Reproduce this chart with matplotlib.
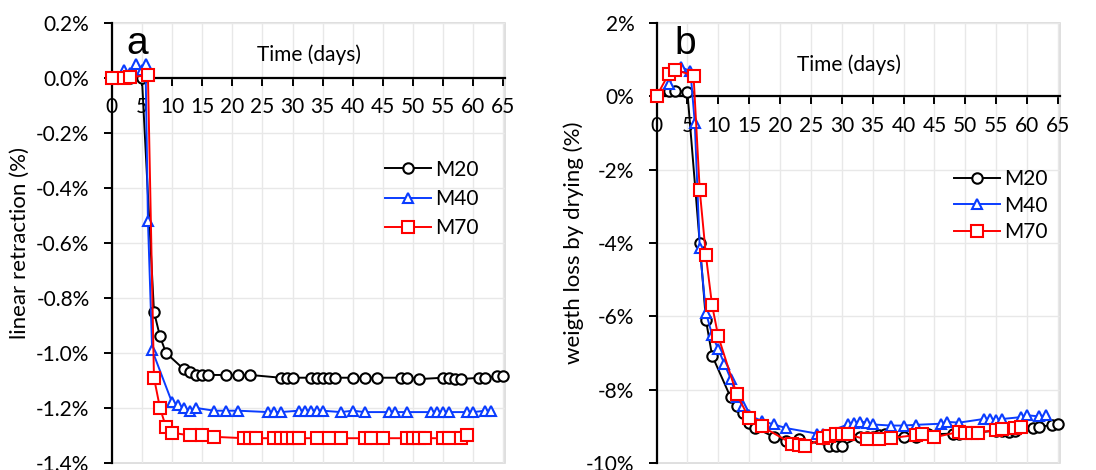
import matplotlib
matplotlib.use("Agg")
import matplotlib.pyplot as plt
from matplotlib.patches import Rectangle
from matplotlib.ticker import FuncFormatter, MultipleLocator

plt.rcParams["font.family"] = ["Lato", "DejaVu Sans"]

# linear retraction (%) vs time (days)
ret_m20_t = [0, 2, 3, 5, 7, 8, 9, 12, 13, 14, 15, 16, 19, 21, 23, 28, 29, 30, 33, 34, 35,
             36, 37, 40, 42, 44, 48, 49, 51, 55, 56, 57, 58, 61, 62, 64, 65]
ret_m20 = [0, 0, 0, 0, -0.85, -0.94, -1.00, -1.06, -1.07, -1.08, -1.08, -1.08, -1.08, -1.08,
           -1.08, -1.09, -1.09, -1.09, -1.09, -1.09, -1.09, -1.09, -1.09, -1.09, -1.09, -1.09,
           -1.09, -1.09, -1.095, -1.09, -1.09, -1.095, -1.095, -1.09, -1.09, -1.085, -1.085]
ret_m40_t = [0, 2, 3, 4, 5, 5.6, 6, 6.7, 10, 11, 12, 13, 14, 17, 19, 21, 26, 27, 28, 31, 32,
             33, 34, 35, 38, 40, 42, 46, 47, 49, 53, 54, 55, 56, 59, 60, 62, 63]
ret_m40 = [0, 0.03, 0.02, 0.05, 0.03, 0.05, -0.52, -0.99, -1.18, -1.19, -1.20, -1.21, -1.20,
           -1.21, -1.21, -1.21, -1.215, -1.215, -1.215, -1.21, -1.21, -1.21, -1.21, -1.21,
           -1.215, -1.21, -1.215, -1.215, -1.215, -1.215, -1.215, -1.215, -1.215, -1.215,
           -1.215, -1.215, -1.21, -1.21]
ret_m70_t = [0, 2, 3, 6, 7, 8, 9, 10, 13, 15, 17, 22, 23, 24, 27, 28, 29, 30, 31, 34, 36, 38,
             42, 43, 45, 49, 50, 51, 52, 55, 56, 58, 59]
ret_m70 = [0, 0, 0.003, 0.01, -1.09, -1.20, -1.27, -1.29, -1.30, -1.30, -1.305, -1.31, -1.31,
           -1.31, -1.31, -1.31, -1.31, -1.31, -1.31, -1.31, -1.31, -1.31, -1.31, -1.31, -1.31,
           -1.31, -1.31, -1.31, -1.31, -1.31, -1.31, -1.308, -1.30]

# weight loss by drying (%) vs time (days)
wl_m20_t = [0, 2, 3, 5, 7, 8, 9, 12, 13, 14, 15, 16, 19, 21, 23, 28, 29, 30, 33, 34, 35,
            36, 37, 40, 42, 44, 48, 49, 51, 55, 56, 57, 58, 61, 62, 64, 65]
wl_m20 = [0, 0.15, 0.15, 0.12, -4.0, -6.1, -7.07, -8.21, -8.44, -8.65, -8.9, -9.04, -9.29,
          -9.41, -9.35, -9.53, -9.53, -9.53, -9.28, -9.3, -9.28, -9.25, -9.2, -9.3, -9.28,
          -9.22, -9.2, -9.2, -9.18, -9.12, -9.12, -9.15, -9.12, -9.05, -9.02, -8.96, -8.93]
wl_m40_t = [0, 2, 4, 5.5, 6.2, 7, 8, 9, 10, 11, 12, 13, 14, 15, 17, 19, 21, 26, 27, 31, 32,
            33, 34, 35, 38, 40, 42, 46, 47, 49, 53, 54, 55, 56, 59, 60, 62, 63]
wl_m40 = [0, 0.35, 0.8, 0.68, -0.73, -4.14, -5.9, -6.5, -6.9, -7.3, -7.7, -8.2, -8.45, -8.7,
          -8.85, -8.95, -9.05, -9.2, -9.2, -8.95, -8.9, -8.87, -8.9, -8.95, -8.98, -8.98,
          -8.96, -8.93, -8.88, -8.9, -8.8, -8.8, -8.82, -8.8, -8.75, -8.7, -8.73, -8.7]
wl_m70_t = [0, 2, 3, 6, 7, 8, 9, 10, 13, 15, 17, 22, 23, 24, 27, 28, 29, 30, 31, 34, 36, 38,
            42, 43, 45, 49, 50, 51, 52, 55, 56, 58, 59]
wl_m70 = [0, 0.62, 0.73, 0.56, -2.56, -4.34, -5.70, -6.55, -8.13, -8.78, -9.0, -9.48, -9.52,
          -9.55, -9.33, -9.26, -9.22, -9.22, -9.22, -9.36, -9.35, -9.32, -9.24, -9.22, -9.3,
          -9.15, -9.17, -9.19, -9.17, -9.1, -9.08, -9.05, -9.03]

labels = ["M20", "M40", "M70"]
colors = ["black", "#0a3cff", "#ff0000"]
markers = ["o", "^", "s"]
msizes = [7.5, 7.5, 8]

fig = plt.figure(figsize=(10.96, 4.70), dpi=100)
ax1 = fig.add_axes([0.102, 0.015, 0.359, 0.936])
ax2 = fig.add_axes([0.599, 0.015, 0.368, 0.936])


def style(ax, ylim, ystep, fmt, ylabel, ylab_x, letter, letter_x, tx, ty):
    ax.set_xlim(0, 65.3)
    ax.set_ylim(*ylim)
    ax.xaxis.set_major_locator(MultipleLocator(5))
    ax.yaxis.set_major_locator(MultipleLocator(ystep))
    ax.yaxis.set_major_formatter(FuncFormatter(lambda v, p: fmt.format(v).replace("−", "-")))
    ax.grid(True, color="#e8e8e8", lw=1.0, zorder=0)
    ax.set_axisbelow(True)
    for s in ["top", "right"]:
        ax.spines[s].set_visible(False)
    ax.spines["bottom"].set_position(("data", 0))
    ax.spines["bottom"].set_linewidth(1.6)
    ax.spines["left"].set_linewidth(1.6)
    ax.add_patch(Rectangle((0, 0), 1, 1, transform=ax.transAxes, fill=False,
                           edgecolor="#d9d9d9", lw=1.2, zorder=0.5, clip_on=False))
    ax.tick_params(axis="x", direction="out", length=6, width=1.4, pad=8, labelsize=15)
    ax.tick_params(axis="y", direction="out", length=6, width=1.4, pad=10, labelsize=15)
    ax.set_ylabel(ylabel, fontsize=16)
    ax.yaxis.set_label_coords(ylab_x, 0.50)
    ax.text(letter_x, 0.93, letter, transform=ax.transAxes, fontsize=28,
            family=["Liberation Sans", "DejaVu Sans"], ha="center", va="baseline")
    ax.text(tx, ty, "Time (days)", transform=ax.transAxes, fontsize=15,
            ha="center", va="center")


ret_series = [(ret_m20_t, ret_m20), (ret_m40_t, ret_m40), (ret_m70_t, ret_m70)]
wl_series = [(wl_m20_t, wl_m20), (wl_m40_t, wl_m40), (wl_m70_t, wl_m70)]

for ax, series in [(ax1, ret_series), (ax2, wl_series)]:
    for (t, v), lab, c, m, ms in zip(series, labels, colors, markers, msizes):
        ax.plot(t, v, marker=m, color=c, ms=ms, mfc="white", mec=c, mew=1.5,
                lw=1.4, label=lab, zorder=3, clip_on=False)

style(ax1, (-1.4, 0.2), 0.2, "{:.1f}%", "linear retraction (%)", -0.209, "a", 0.064,
      0.50, 0.927)
style(ax2, (-10, 2), 2, "{:.0f}%", "weigth loss by drying (%)", -0.181, "b", 0.072,
      0.477, 0.905)

leg_kw = dict(frameon=False, fontsize=15, handlelength=2.2, handletextpad=0.2,
              borderaxespad=0, borderpad=0, loc="center left")
ax1.legend(bbox_to_anchor=(0.695, 0.60), labelspacing=0.45, **leg_kw)
ax2.legend(bbox_to_anchor=(0.737, 0.585), labelspacing=0.3, **leg_kw)

fig.savefig("out.png", dpi=100)
